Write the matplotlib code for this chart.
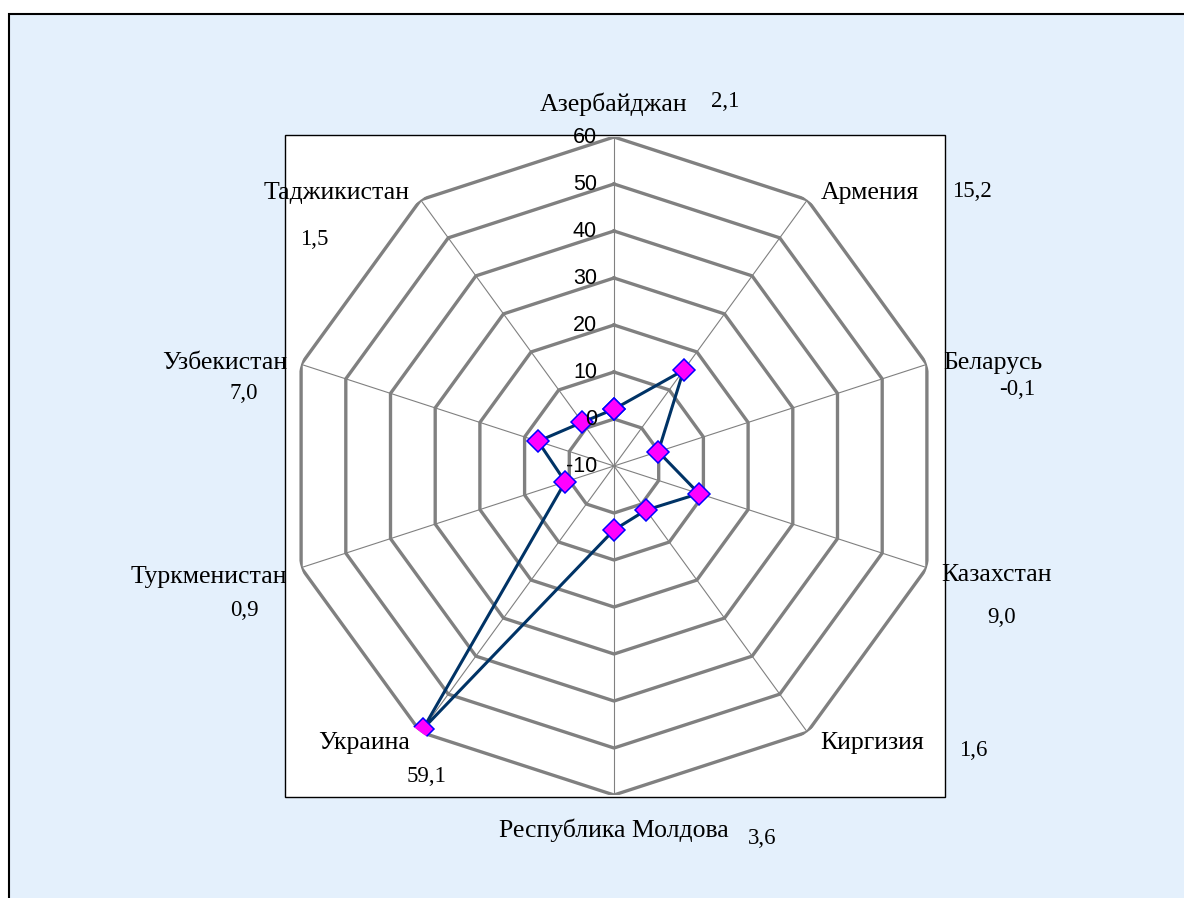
# -*- coding: utf-8 -*-

import matplotlib.pyplot as plt
import numpy as np
from matplotlib.patches import Rectangle

countries = ['Азербайджан', 'Армения', 'Беларусь', 'Казахстан', 'Киргизия',
             'Республика Молдова', 'Украина', 'Туркменистан', 'Узбекистан',
             'Таджикистан']
values = [2.1, 15.2, -0.1, 9.0, 1.6, 3.6, 59.1, 0.9, 7.0, 1.5]
r_ticks = [-10, 0, 10, 20, 30, 40, 50, 60]

# label offsets from the outer vertex, in pixels
name_off = [(0, 33), (13, 7), (16, 1), (14, -7), (13, -11),
            (0, -35), (-11, -11), (-14, -9), (-14, 1), (-11, 7)]
name_ha = ['center', 'left', 'left', 'left', 'left',
           'center', 'right', 'right', 'right', 'right']
val_off = [(111, 36), (165, 8), (90, -25), (75, -50), (166, -18),
           (148, -43), (6, -44), (-57, -43), (-57, -29), (-106, -40)]

W, H = 1184, 898
fig = plt.figure(figsize=(W / 100, H / 100), dpi=100)
fig.patch.set_facecolor('white')

# chart area background and plot box
fig.add_artist(Rectangle((9 / W, -0.05), 1.1, (H - 14) / H + 0.05,
                         transform=fig.transFigure, facecolor='#E4F0FC',
                         edgecolor='black', lw=1.5, zorder=0))
fig.add_artist(Rectangle((285 / W, (H - 797) / H), 660 / W, 662 / H,
                         transform=fig.transFigure, facecolor='white',
                         edgecolor='black', lw=1.0, zorder=0))

ax = fig.add_axes([285 / W, 103 / H, 658 / W, 658 / H], projection='polar')
ax.patch.set_visible(False)
ax.spines['polar'].set_visible(False)
ax.set_theta_zero_location('N')
ax.set_theta_direction(-1)
ax.set_ylim(-10, 60)
ax.grid(False)
ax.set_xticks([])
ax.set_yticks([])

N = len(countries)
theta = np.arange(N) * 2 * np.pi / N
theta_c = np.append(theta, theta[0])

# spokes
for t in theta:
    ax.plot([t, t], [-10, 60], color='#808080', lw=0.8, zorder=1)
# polygon rings
for r in r_ticks[1:]:
    ax.plot(theta_c, [r] * (N + 1), color='#808080', lw=2.4, zorder=2)

# data
vals_c = np.append(values, values[0])
ax.plot(theta_c, vals_c, color='#003366', lw=2.2, marker='D', ms=11,
        mfc='#FF00FF', mec='#0000FF', mew=1.1, zorder=4)

# radial tick labels
for r in r_ticks:
    ax.annotate(str(r), xy=(0, r), xytext=(-17, 0), textcoords='offset pixels',
                ha='right', va='center', fontsize=15.5,
                family='Liberation Sans', zorder=5, annotation_clip=False)

# category and value labels
for i in range(N):
    ax.annotate(countries[i], xy=(theta[i], 60), xytext=name_off[i],
                textcoords='offset pixels', ha=name_ha[i], va='center',
                fontsize=18.5, family='Liberation Serif', annotation_clip=False)
    ax.annotate(f'{values[i]:.1f}'.replace('.', ','), xy=(theta[i], 60),
                xytext=val_off[i], textcoords='offset pixels', ha='center',
                va='center', fontsize=16.5, family='Liberation Serif',
                annotation_clip=False)

fig.savefig('out.png', dpi=100)
